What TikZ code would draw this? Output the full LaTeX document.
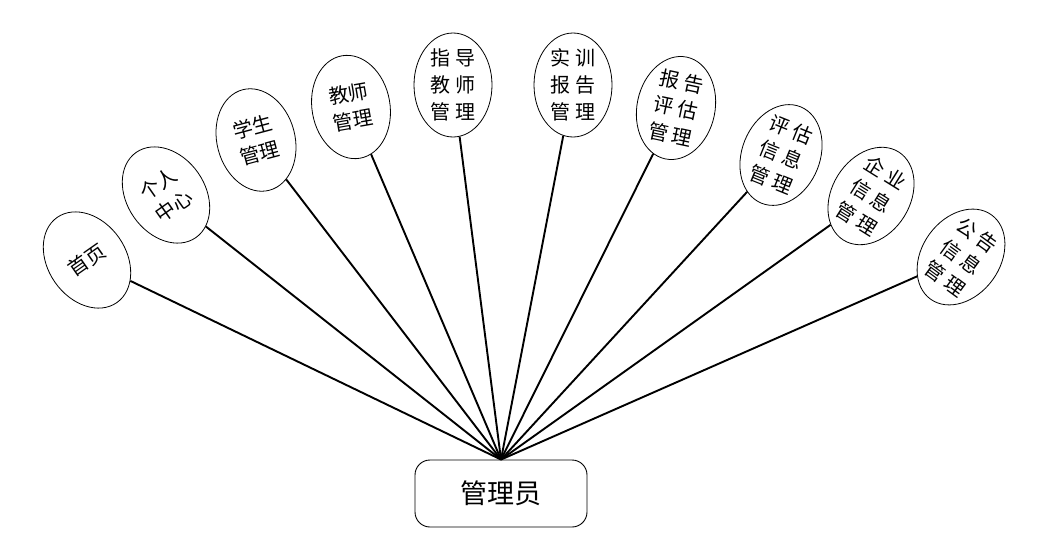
\documentclass[tikz,border=0pt]{standalone}
\usepackage{fontspec}
\newfontfamily\cjk{Noto Sans CJK SC}
\usetikzlibrary{shapes.geometric}
\tikzset{
  elli/.style={draw,ellipse,line width=0.8pt,inner sep=-6pt,
               minimum width=78pt,minimum height=104pt,align=center,
               font=\cjk\fontsize{20}{27}\selectfont},
  root/.style={draw,line width=0.9pt,rounded corners=15pt,
               minimum width=172pt,minimum height=67pt,
               font=\cjk\fontsize{27}{30}\selectfont},
  conn/.style={line width=1.9pt},
}
\begin{document}
\begin{tikzpicture}[x=1pt,y=-1pt]
  \useasboundingbox (0,0) rectangle (1056,551);
  \node[root] (adm) at (501,493.5) {管理员};
  \coordinate (hub) at (adm.north);
  % modules
  \node[elli,rotate=35] (home) at (87,260) {首页};
  \node[elli,rotate=35] (self) at (166,195) {个人\\中心};
  \node[elli,rotate=15] (stu) at (256,140) {学生\\管理};
  \node[elli,rotate=10] (tea) at (351,107) {教师\\管理};
  \node[elli] (guide) at (453,85) {指 导\\教 师\\管 理};
  \node[elli] (rep) at (573,85) {实 训\\报 告\\管 理};
  \node[elli,rotate=-12] (eval) at (676,108) {报 告\\评 估\\管 理};
  \node[elli,rotate=-22] (einfo) at (781,155) {评 估\\信 息\\管 理};
  \node[elli,rotate=-32] (corp) at (871,196) {企 业\\信 息\\管 理};
  \node[elli,rotate=-36] (news) at (961,257) {公 告\\信 息\\管 理};
  \foreach \m in {home,self,stu,tea,guide,rep,eval,einfo,corp,news}
    \draw[conn] (hub) -- (\m);
\end{tikzpicture}
\end{document}
